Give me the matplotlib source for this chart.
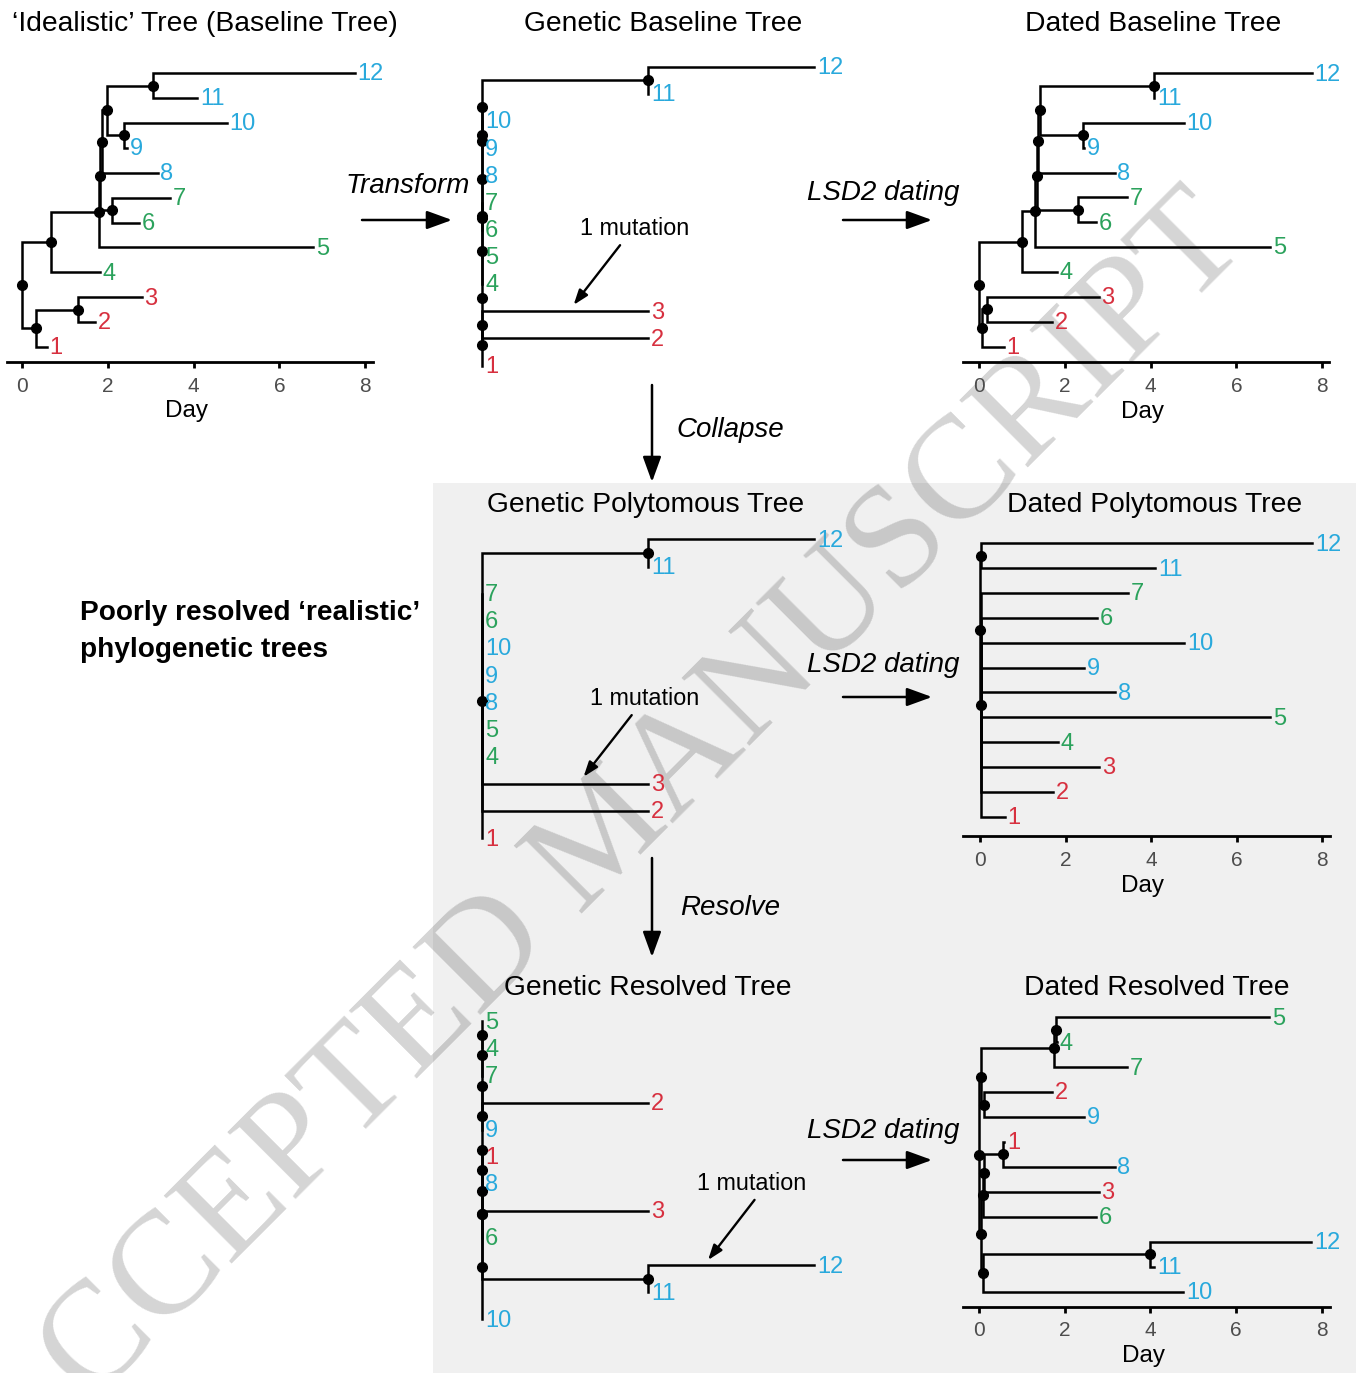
import matplotlib.pyplot as plt
from matplotlib.patches import Rectangle

plt.rcParams['font.family'] = ['Liberation Sans', 'DejaVu Sans']

W, H = 1356, 1373
RED, GREEN, BLUE = '#d7303f', '#2ba25c', '#29a9dc'
tip_colour = {1: RED, 2: RED, 3: RED, 4: GREEN, 5: GREEN, 6: GREEN, 7: GREEN,
              8: BLUE, 9: BLUE, 10: BLUE, 11: BLUE, 12: BLUE}

# sampling day of every tip (same in each dated tree)
tip_day = {1: 0.58, 2: 1.70, 3: 2.79, 4: 1.82, 5: 6.78, 6: 2.73, 7: 3.45,
           8: 3.16, 9: 2.44, 10: 4.77, 11: 4.09, 12: 7.76}
# mutations from the root in the genetic trees
tip_mut = {1: 0, 2: 1, 3: 1, 4: 0, 5: 0, 6: 0, 7: 0, 8: 0, 9: 0, 10: 0, 11: 1, 12: 2}

# trees: internal node = [height, child, child, ...], tip = its number
# children are listed from bottom to top
idealistic = [0.0, [0.32, 1, [1.31, 2, 3]],
              [0.67, 4, [1.80, 5, [1.82, [2.09, 6, 7],
                                   [1.86, 8, [1.97, [2.38, 9, 10], [3.05, 11, 12]]]]]]]
genetic_baseline = [0, [0, 1, [0, 2, 3]],
                    [0, 4, [0, 5, [0, [0, 6, 7],
                                   [0, 8, [0, [0, 9, 10], [1, 11, 12]]]]]]]
dated_baseline = [0.0, [0.08, 1, [0.18, 2, 3]],
                  [1.01, 4, [1.31, 5, [1.35, [2.31, 6, 7],
                                       [1.38, 8, [1.42, [2.42, 9, 10], [4.07, 11, 12]]]]]]]
genetic_polytomous = [0, 1, 2, 3, 4, 5, 8, 9, 10, 6, 7, [1, 11, 12]]
dated_polytomous = [0.0, [0.03, 1, 2, 3, 4, 5, 8, 9, 10, 6, 7], [0.03, 11, 12]]
genetic_resolved = [0, 10, [0, [1, 11, 12],
                            [0, [0, 6, [0, 3, [0, 8, 1]]],
                             [0, [0, 9, 2], [0, 7, [0, 4, 5]]]]]]
dated_resolved = [0.0, [0.04, [0.08, 10, [3.98, 11, 12]],
                        [0.08, 6, [0.12, 3, [0.56, 8, 1]]]],
                  [0.04, [0.10, 9, 2], [1.75, 7, [1.79, 4, 5]]]]

titles = ['\u2018Idealistic\u2019 Tree (Baseline Tree)', 'Genetic Baseline Tree',
          'Dated Baseline Tree', 'Genetic Polytomous Tree', 'Dated Polytomous Tree',
          'Genetic Resolved Tree', 'Dated Resolved Tree']
day_ticks = [0, 2, 4, 6, 8]

fig = plt.figure(figsize=(W / 100, H / 100), dpi=100)

# background layer in pixel units
bg = fig.add_axes([0, 0, 1, 1])
bg.set_xlim(0, W)
bg.set_ylim(H, 0)
bg.axis('off')
bg.add_patch(Rectangle((433, 483), W - 433, H - 483, color='#f0f0f0', lw=0))
bg.text(608, 838, 'ACCEPTED MANUSCRIPT', fontsize=106, family='Liberation Serif',
        color='black', alpha=0.17, rotation=45, rotation_mode='anchor',
        ha='center', va='center')

title_pos = [(205, 24), (663, 24), (1153, 24), (646, 505), (1155, 505), (648, 988), (1157, 988)]
for t, (x, y) in zip(titles, title_pos):
    bg.text(x, y, t, fontsize=20.3, ha='center', va='center')

bg.text(80, 613, 'Poorly resolved \u2018realistic\u2019', fontsize=20.2, weight='bold', va='center')
bg.text(80, 650, 'phylogenetic trees', fontsize=20.2, weight='bold', va='center')

steps = [('Transform', (408, 186), (362, 220), (452, 220)),
         ('LSD2 dating', (883, 193), (843, 220), (932, 220)),
         ('Collapse', (730, 430), (652, 385), (652, 482)),
         ('LSD2 dating', (883, 665), (843, 697), (932, 697)),
         ('Resolve', (730, 908), (652, 858), (652, 957)),
         ('LSD2 dating', (883, 1131), (843, 1160), (932, 1160))]
for label, pos, a, b in steps:
    bg.text(pos[0], pos[1], label, fontsize=20, style='italic', ha='center', va='center')
    bg.annotate('', xy=b, xytext=a,
                arrowprops=dict(arrowstyle='-|>,head_length=0.55,head_width=0.2',
                                mutation_scale=28, lw=1.8, color='black',
                                shrinkA=0, shrinkB=0))


def layout(node, tip_x, tips, nodes):
    if isinstance(node, int):
        tips.append(node)
        return tip_x[node], float(len(tips))
    kids = [layout(c, tip_x, tips, nodes) for c in node[1:]]
    y = sum(k[1] for k in kids) / len(kids)
    nodes.append((node[0], y, kids))
    return node[0], y


def tree_axes(ox, oy, sx, sy, xlim, ylim):
    left, right = ox + xlim[0] * sx, ox + xlim[1] * sx
    bottom, top = oy - (ylim[0] - 1) * sy, oy - (ylim[1] - 1) * sy
    ax = fig.add_axes([left / W, 1 - bottom / H, (right - left) / W, (bottom - top) / H])
    ax.set_xlim(xlim)
    ax.set_ylim(ylim)
    ax.patch.set_visible(False)
    return ax


panels = [
    (idealistic, tip_day, True, (22, 347, 42.9, 24.9), (-0.35, 8.18), (0.4, 12.6)),
    (genetic_baseline, tip_mut, False, (482.3, 365.5, 166, 27.16), (-0.1, 2.3), (0.5, 12.5)),
    (dated_baseline, tip_day, True, (979, 346.5, 42.9, 24.85), (-0.37, 8.16), (0.37, 12.6)),
    (genetic_polytomous, tip_mut, False, (482.3, 838.2, 166, 27.17), (-0.1, 2.3), (0.5, 12.5)),
    (dated_polytomous, tip_day, True, (980, 816.7, 42.8, 24.85), (-0.39, 8.17), (0.22, 12.6)),
    (genetic_resolved, tip_mut, False, (482.3, 1319.4, 166, 27.1), (-0.1, 2.3), (0.5, 12.5)),
    (dated_resolved, tip_day, True, (979.3, 1291.7, 42.8, 24.95), (-0.375, 8.2), (0.4, 12.6)),
]

# '1 mutation' notes on the genetic trees: text, arrow tail, arrow head
notes = {1: ((0.92, 6.06), (0.83, 5.43), (0.55, 3.23)),
         3: ((0.98, 6.16), (0.90, 5.53), (0.61, 3.26)),
         5: ((1.62, 6.00), (1.64, 5.41), (1.36, 3.19))}

for i, (tree, tip_x, dated, scale, xlim, ylim) in enumerate(panels):
    ax = tree_axes(*scale, xlim, ylim)
    tips, nodes = [], []
    layout(tree, tip_x, tips, nodes)
    for x, y, kids in nodes:
        for xc, yc in kids:
            ax.plot([x, x, xc], [y, yc, yc], color='black', lw=1.8,
                    solid_joinstyle='miter', clip_on=False)
    for x, y, kids in nodes:
        ax.plot(x, y, 'o', color='black', ms=7, clip_on=False, zorder=3)
    for row, t in enumerate(tips, start=1):
        ax.annotate(str(t), (tip_x[t], row), xytext=(2, -1), textcoords='offset points',
                    fontsize=17, color=tip_colour[t], va='center', ha='left')
    ax.set_yticks([])
    for s in ['left', 'top', 'right']:
        ax.spines[s].set_visible(False)
    if dated:
        ax.spines['bottom'].set_linewidth(2)
        ax.set_xticks(day_ticks)
        ax.tick_params(axis='x', length=4, width=2, labelsize=15,
                       labelcolor='#4d4d4d', pad=6.5)
        ax.set_xlabel('Day', fontsize=17.5, labelpad=3.5)
        ax.xaxis.label.set_x(0.49)
    else:
        ax.spines['bottom'].set_visible(False)
        ax.set_xticks([])
        txt, tail, head = notes[i]
        ax.text(txt[0], txt[1], '1 mutation', fontsize=16.8, ha='center', va='center')
        ax.annotate('', xy=head, xytext=tail,
                    arrowprops=dict(arrowstyle='-|>,head_length=0.45,head_width=0.16',
                                    mutation_scale=20, lw=1.7, color='black',
                                    shrinkA=0, shrinkB=0))

fig.savefig('out.png', dpi=100)
